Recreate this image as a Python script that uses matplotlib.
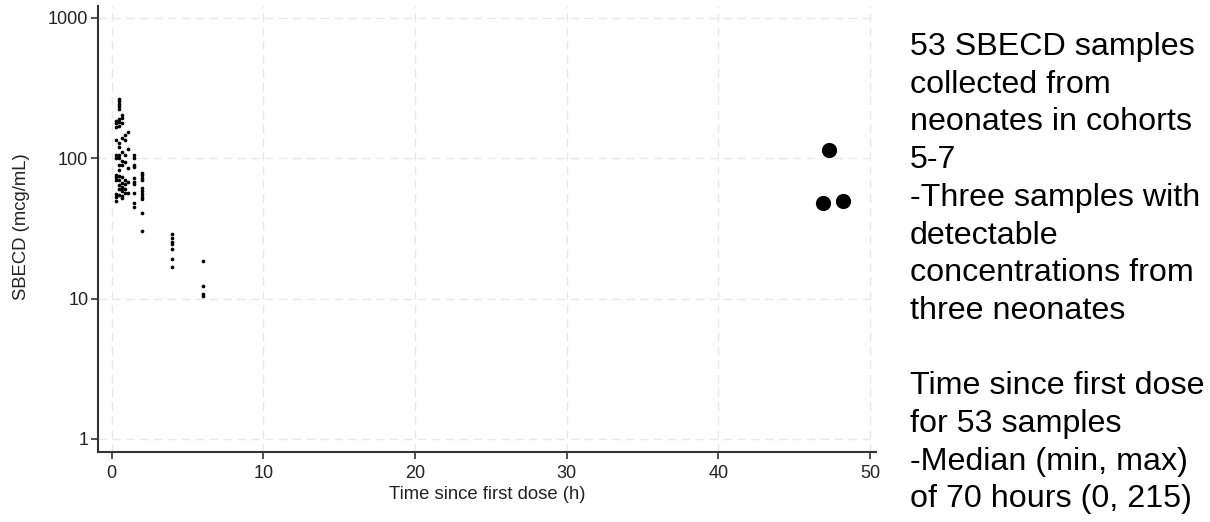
import matplotlib
matplotlib.use("Agg")
import matplotlib.pyplot as plt
from matplotlib.ticker import FixedLocator, NullLocator

# ---------------- data ----------------
# early samples (small dots)
time_small = [
    0.5, 0.5, 0.5, 0.5, 0.5, 0.5, 0.5, 0.5, 0.5, 0.5, 0.5, 0.5, 0.5, 0.5, 0.5, 0.5, 0.5, 0.5, 0.5,
    0.3, 0.3, 0.3, 0.3, 0.3, 0.3, 0.3, 0.3, 0.3, 0.3, 0.3, 0.3,
    0.7, 0.7, 0.7, 0.7, 0.7, 0.7, 0.7, 0.7, 0.7, 0.7, 0.7, 0.7, 0.7, 0.7,
    0.9, 0.9, 0.9, 0.9, 0.9, 0.9, 0.9, 0.9,
    1.05, 1.05, 1.05, 1.05, 1.05,
    1.5, 1.5, 1.5, 1.5, 1.5, 1.5, 1.5, 1.5, 1.5, 1.5,
    2.0, 2.0, 2.0, 2.0, 2.0, 2.0, 2.0, 2.0, 2.0, 2.0, 2.0,
    4.0, 4.0, 4.0, 4.0, 4.0, 4.0, 4.0,
    6.0, 6.0, 6.0, 6.0,
]
conc_small = [
    265, 255, 245, 235, 225, 190, 180, 170, 128, 120, 105, 100, 90, 82, 75, 70, 65, 60, 55,
    185, 178, 166, 134, 105, 100, 76, 73, 70, 56, 53, 50,
    202, 193, 178, 139, 111, 95, 89, 73, 67, 61, 54, 52, 62, 58,
    146, 134, 105, 94, 70, 66, 60, 57,
    155, 117, 85, 68, 57,
    105, 100, 89, 86, 72, 68, 66, 57, 48, 45,
    79, 76, 72, 70, 61, 58, 56, 53, 51.5, 41, 30.5,
    29, 27, 25.5, 24.5, 22.5, 19, 16.7,
    18.5, 12.3, 10.8, 10.4,
]
# late samples (large dots)
time_large = [47.3, 46.9, 48.2]
conc_large = [115, 48, 49.5]

x_ticks = [0, 10, 20, 30, 40, 50]
y_ticks = [1, 10, 100, 1000]
y_ticklabels = ["1", "10", "100", "1000"]

side_lines = [
    "53 SBECD samples",
    "collected from",
    "neonates in cohorts",
    "5-7",
    "-Three samples with",
    "detectable",
    "concentrations from",
    "three neonates",
    "",
    "Time since first dose",
    "for 53 samples",
    "-Median (min, max)",
    "of 70 hours (0, 215)",
]

# ---------------- figure ----------------
W, H = 1210, 522
fig = plt.figure(figsize=(W / 100, H / 100), dpi=100)
plt.rcParams['font.family'] = ['Liberation Sans', 'DejaVu Sans']

ax = fig.add_axes([98 / W, 1 - 452 / H, (876 - 98) / W, (452 - 6) / H])
ax.set_yscale('log')
ax.set_xlim(-0.9, 50.4)
ax.set_ylim(0.807, 1217)

ax.xaxis.set_major_locator(FixedLocator(x_ticks))
ax.yaxis.set_major_locator(FixedLocator(y_ticks))
ax.yaxis.set_minor_locator(NullLocator())
ax.set_yticklabels(y_ticklabels)

ax.grid(True, which='major', color='#e8e8e8', linestyle=(0, (6, 4)), linewidth=1.0)
ax.set_axisbelow(True)

for s in ['top', 'right']:
    ax.spines[s].set_visible(False)
for s in ['left', 'bottom']:
    ax.spines[s].set_color('#333333')
    ax.spines[s].set_linewidth(1.5)

ax.tick_params(axis='both', direction='out', length=5, width=1.2, color='#333333',
               labelsize=13, labelcolor='#222222')
ax.tick_params(axis='x', pad=4)
ax.tick_params(axis='y', pad=2)

ax.scatter(time_small, conc_small, s=7, color='black', linewidths=0, zorder=3)
ax.scatter(time_large, conc_large, s=120, color='black', linewidths=0, zorder=3)

ax.set_xlabel("Time since first dose (h)", fontsize=13.3, color='#222222', labelpad=3)
ax.set_ylabel("SBECD (mcg/mL)", fontsize=13.3, color='#222222')
ax.yaxis.set_label_coords((30 - 98) / 778, 0.505)

# side text
base0 = 55
pitch = 37.7
for i, line in enumerate(side_lines):
    if not line:
        continue
    fig.text(910 / W, 1 - (base0 + i * pitch) / H, line, fontsize=23.2,
             va='baseline', ha='left', color='black')

fig.savefig("out.png", dpi=100, facecolor='white')
